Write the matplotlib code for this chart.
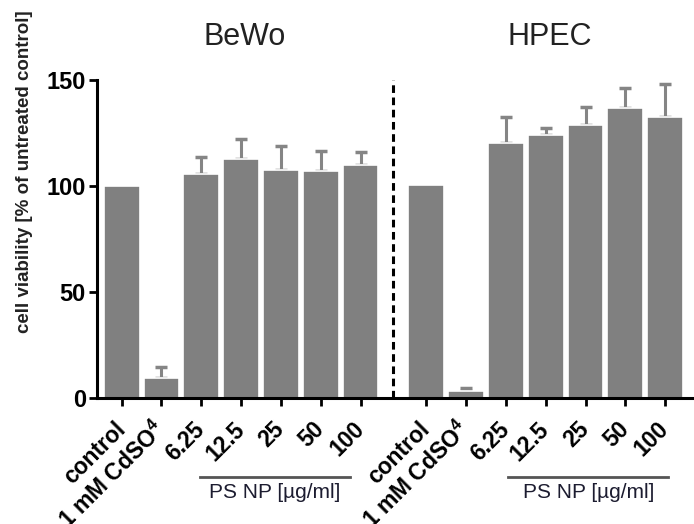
import matplotlib
matplotlib.use("Agg")
import matplotlib.pyplot as plt
import numpy as np

plt.rcParams['font.family'] = ['Liberation Sans', 'DejaVu Sans']

labels = ["control", "1 mM CdSO$\\mathregular{^4}$", "6.25", "12.5", "25", "50", "100"]
groups = ["BeWo", "HPEC"]
bewo_mean = [100, 9.3, 105.7, 112.6, 107.5, 106.9, 109.9]
bewo_err = [0, 5.2, 7.8, 9.8, 11.4, 9.7, 6.2]
hpec_mean = [100.5, 3.5, 120.4, 124.0, 128.8, 136.6, 132.4]
hpec_err = [0, 1.0, 12.3, 3.2, 8.3, 9.5, 15.6]
np_label = "PS NP [µg/ml]"
ylabel = "cell viability [% of untreated control]"
yticks = [0, 50, 100, 150]

W, H = 694, 524
fig = plt.figure(figsize=(W / 100, H / 100), dpi=100)
ax = fig.add_axes([97 / W, 1 - 398 / H, (693 - 97) / W, 318 / H])

gap = 1.65
x1 = np.arange(7)
x2 = np.arange(7) + 6 + gap
bar_kw = dict(width=0.9, color='#808080', edgecolor='white', linewidth=1.2, zorder=2)
err_kw = dict(ecolor='#858585', elinewidth=2.2, capsize=4.5, capthick=2.5, zorder=1)
for xs, m, e in [(x1, bewo_mean, bewo_err), (x2, hpec_mean, hpec_err)]:
    ax.bar(xs, m, **bar_kw)
    m = np.asarray(m); e = np.asarray(e)
    k = e > 0
    ax.errorbar(xs[k], m[k], yerr=[np.zeros(k.sum()), e[k]], fmt='none', **err_kw)

ax.set_xlim(-0.62, x2[-1] + 0.7)
ax.set_ylim(0, 150)
ax.set_yticks(yticks)
ax.set_xticks(np.concatenate([x1, x2]))
ax.set_xticklabels(labels + labels, rotation=45, ha='right', va='center',
                   rotation_mode='anchor', fontsize=16.5, fontweight='bold')
for t in ax.get_yticklabels():
    t.set_fontsize(17)
    t.set_fontweight('bold')
for s in ['top', 'right']:
    ax.spines[s].set_visible(False)
for s in ['left', 'bottom']:
    ax.spines[s].set_linewidth(2.2)
ax.tick_params(axis='both', direction='out', length=6, width=2)
ax.tick_params(axis='x', pad=14)
ax.tick_params(axis='y', pad=2)

# divider
xdiv = (x1[-1] + x2[0]) / 2
ax.plot([xdiv, xdiv], [0, 150], color='black', lw=2.2, ls=(0, (2.5, 1.5)), zorder=3, clip_on=False)

# group titles
for xs, g in [(x1, groups[0]), (x2, groups[1])]:
    ax.text(xs.mean() + 0.1, 1.11, g, transform=ax.get_xaxis_transform(),
            ha='center', va='baseline', fontsize=22, color='#222222')

# PS NP lines
tr = ax.get_xaxis_transform()
for a, b in [(x1[2] - 0.03, x1[6] - 0.26), (x2[2] + 0.06, x2[6] + 0.08)]:
    ax.plot([a, b], [-0.248, -0.248], transform=tr, color='#555555', lw=2, clip_on=False)
    ax.text((a + b) / 2, -0.296, np_label, transform=tr, ha='center', va='center',
            fontsize=15, color='#1c1c30')

fig.text(25 / W, 1 - 171.5 / H, ylabel, rotation=90, ha='center', va='center',
         fontsize=13.5, fontweight='bold', color='#222222')

fig.savefig('out.png', dpi=100)
